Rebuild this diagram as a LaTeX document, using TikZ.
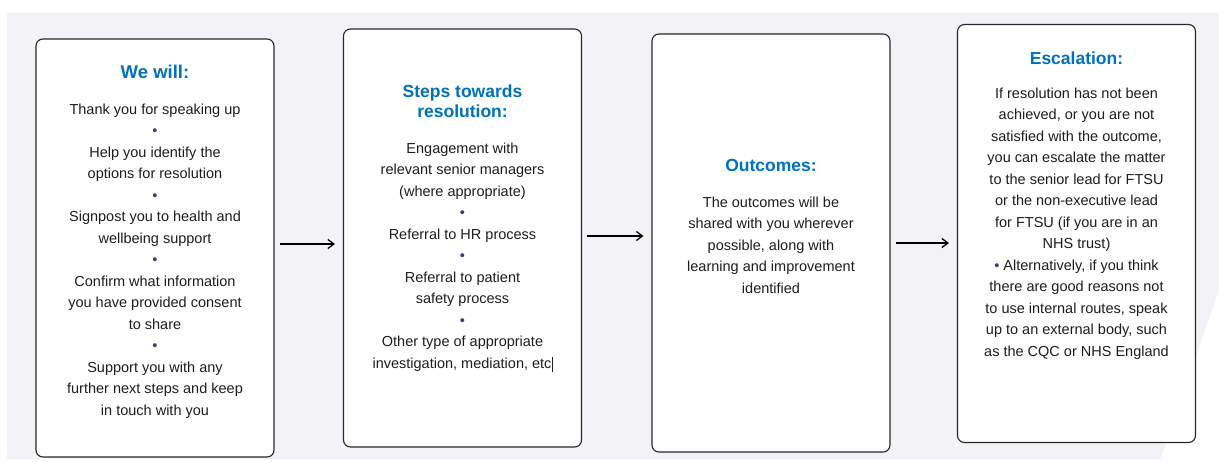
\documentclass[tikz,border=0pt]{standalone}
\usepackage{fontspec}
\setmainfont{Liberation Sans}
\usetikzlibrary{arrows.meta}
\definecolor{bg}{RGB}{242,242,247}
\definecolor{titleblue}{RGB}{0,112,192}
\definecolor{txt}{RGB}{30,30,30}
\definecolor{dotc}{RGB}{80,45,140}
\definecolor{edge}{RGB}{40,40,40}
\newcommand{\bul}{{\color{dotc}•}}
\begin{document}
\begin{tikzpicture}[x=1pt,y=-1pt,
  card/.style={draw=edge, fill=white, line width=1.1pt, minimum width=238pt, minimum height=418pt,
    inner sep=0pt, rounded corners=7pt},
  ttl/.style={anchor=north, inner sep=0pt, align=center, text=titleblue, font=\fontsize{17.5}{20}\selectfont\bfseries},
  body/.style={anchor=north, inner sep=0pt, align=center, text=txt, font=\fontsize{14.5}{21.5}\selectfont},
  arr/.style={-{Straight Barb[length=6pt,width=9pt,line width=1.3pt]}, line width=1.4pt, draw=black, shorten <=5pt, shorten >=8pt}]
\useasboundingbox (0,0) rectangle (1219,461);
\fill[white] (0,0) rectangle (1219,461);
\fill[bg] (7,13) rectangle (1219,459);
\fill[white] (1219,290) -- (1160,461) -- (1219,461) -- cycle;

\node[card] (b1) at (155,248) {};
\node[card] (b2) at (462.5,238) {};
\node[card] (b3) at (771,243) {};
\node[card] (b4) at (1076.5,233.5) {};

% box 1
\node[ttl, font=\fontsize{18.5}{20}\selectfont\bfseries] (t1) at (155,65) {We will:};
\node[body] (x1) at (155,103.5) {Thank you for speaking up\\ \bul\\ Help you identify the\\ options for resolution\\ \bul\\
 Signpost you to health and\\ wellbeing support\\ \bul\\ Confirm what information\\ you have provided consent\\ to share\\ \bul\\
 Support you with any\\ further next steps and keep\\ in touch with you};

% box 2
\node[ttl] (t2) at (462.5,84.5) {Steps towards\\ resolution:};
\node[body] (x2) at (462.5,142.5) {Engagement with\\ relevant senior managers\\ (where appropriate)\\ \bul\\ Referral to HR process\\ \bul\\
 Referral to patient\\ safety process\\ \bul\\ Other type of appropriate\\ investigation, mediation, etc\rule[-3.5pt]{0.9pt}{15pt}};

% box 3
\node[ttl] (t3) at (771,159.5) {Outcomes:};
\node[body] (x3) at (771,196.5) {The outcomes will be\\ shared with you wherever\\ possible, along with\\ learning and improvement\\ identified};

% box 4
\node[ttl] (t4) at (1076.5,51.5) {Escalation:};
\node[body] (x4) at (1076.5,87.5) {If resolution has not been\\ achieved, or you are not\\ satisfied with the outcome,\\ you can escalate the matter\\
 to the senior lead for FTSU\\ or the non-executive lead\\ for FTSU (if you are in an\\ NHS trust)\\ \bul{} Alternatively, if you think\\
 there are good reasons not\\ to use internal routes, speak\\ up to an external body, such\\ as the CQC or NHS England};

% arrows
\draw[arr] (b1.east |- 0,244) -- (b2.west |- 0,244);
\draw[arr] (b2.east |- 0,236) -- (b3.west |- 0,236);
\draw[arr] (b3.east |- 0,243) -- (b4.west |- 0,243);
\end{tikzpicture}
\end{document}
